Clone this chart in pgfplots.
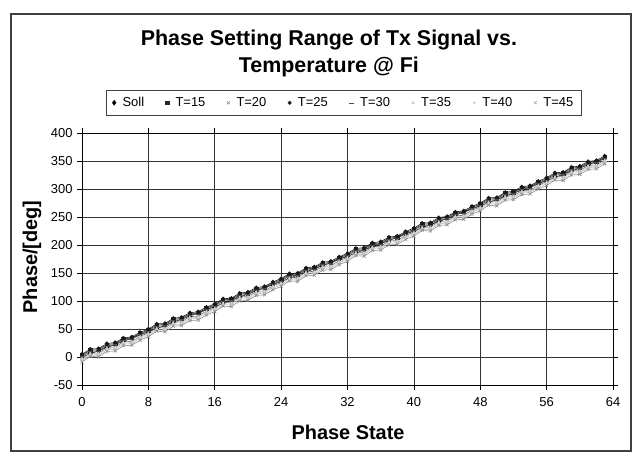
\documentclass[border=0pt]{standalone}
\usepackage{pgfplots}
\pgfplotsset{compat=1.18}
\usepackage{pgfplotstable}
\usepackage{fontspec}
\setmainfont{Liberation Sans}

\pgfplotstableread{
x soll t15 t20 t25 t30 t35 t40 t45
0 0.0 3 -2 5 1 -4 -6 -9
1 5.6 12 7 14 10 5 3 1
2 11.3 13 7 15 11 5 3 0
3 16.9 22 17 24 20 15 13 10
4 22.5 24 18 26 22 16 14 11
5 28.1 32 27 34 30 25 23 20
6 33.8 34 28 36 32 26 24 21
7 39.4 42 37 44 40 35 33 30
8 45.0 48 43 50 46 41 39 36
9 50.6 57 52 59 55 50 48 46
10 56.3 58 52 60 56 50 48 45
11 61.9 67 62 69 65 60 58 55
12 67.5 69 63 71 67 61 59 56
13 73.1 77 72 79 75 70 68 65
14 78.8 79 73 81 77 71 69 66
15 84.4 87 82 89 85 80 78 75
16 90.0 93 88 95 91 86 84 81
17 95.6 102 97 104 100 95 93 91
18 101.3 103 97 105 101 95 93 90
19 106.9 112 107 114 110 105 103 100
20 112.5 114 108 116 112 106 104 101
21 118.1 122 117 124 120 115 113 110
22 123.8 124 118 126 122 116 114 111
23 129.4 132 127 134 130 125 123 120
24 135.0 138 133 140 136 131 129 126
25 140.6 147 142 149 145 140 138 136
26 146.3 148 142 150 146 140 138 135
27 151.9 157 152 159 155 150 148 145
28 157.5 159 153 161 157 151 149 146
29 163.1 167 162 169 165 160 158 155
30 168.8 169 163 171 167 161 159 156
31 174.4 177 172 179 175 170 168 165
32 180.0 183 178 185 181 176 174 171
33 185.6 192 187 194 190 185 183 181
34 191.3 193 187 195 191 185 183 180
35 196.9 202 197 204 200 195 193 190
36 202.5 204 198 206 202 196 194 191
37 208.1 212 207 214 210 205 203 200
38 213.8 214 208 216 212 206 204 201
39 219.4 222 217 224 220 215 213 210
40 225.0 228 223 230 226 221 219 216
41 230.6 237 232 239 235 230 228 226
42 236.3 238 232 240 236 230 228 225
43 241.9 247 242 249 245 240 238 235
44 247.5 249 243 251 247 241 239 236
45 253.1 257 252 259 255 250 248 245
46 258.8 259 253 261 257 251 249 246
47 264.4 267 262 269 265 260 258 255
48 270.0 273 268 275 271 266 264 261
49 275.6 282 277 284 280 275 273 271
50 281.3 283 277 285 281 275 273 270
51 286.9 292 287 294 290 285 283 280
52 292.5 294 288 296 292 286 284 281
53 298.1 302 297 304 300 295 293 290
54 303.8 304 298 306 302 296 294 291
55 309.4 312 307 314 310 305 303 300
56 315.0 318 313 320 316 311 309 306
57 320.6 327 322 329 325 320 318 316
58 326.3 328 322 330 326 320 318 315
59 331.9 337 332 339 335 330 328 325
60 337.5 339 333 341 337 331 329 326
61 343.1 347 342 349 345 340 338 335
62 348.8 349 343 351 347 341 339 336
63 354.4 357 352 359 355 350 348 345
}\datatable

\begin{document}
\begin{tikzpicture}
\path[use as bounding box] (-82bp,-74bp) rectangle (553bp,385bp);
\draw[line width=1.2pt, black!75] (-71bp,-66bp) rectangle (549bp,371bp);
\begin{axis}[
  at={(0,0)}, anchor=south west,
  scale only axis, width=531bp, height=252bp,
  xmin=0, xmax=64, ymin=-50, ymax=400,
  xtick={0,8,...,64}, ytick={-50,0,...,400},
  grid=major,
  major grid style={black!80, line width=0.6pt},
  axis line style={black, line width=0.9pt},
  tick align=outside, major tick length=5bp,
  tick style={black, line width=0.6pt},
  /pgf/number format/assume math mode=true,
  tick label style={font=\fontsize{13}{15}\selectfont},
  xticklabel style={yshift=-4bp},
  yticklabel style={xshift=-1bp},
  title={Phase Setting Range of Tx Signal vs.\\Temperature @ Fi},
  title style={font=\fontsize{21.5}{28}\selectfont\bfseries, align=center,
    at={(axis description cs:0.465,1.292)}, anchor=center},
  xlabel={Phase State},
  ylabel={Phase/[deg]},
  label style={font=\fontsize{20}{22}\selectfont\bfseries},
  xlabel style={at={(axis description cs:0.501,0)}, anchor=base, yshift=-54bp},
  ylabel style={at={(axis description cs:-0.0942,0.508)}, anchor=center},
  legend columns=8,
  legend style={at={(axis description cs:0.045,1.171)}, anchor=north west,
    font=\fontsize{13}{15}\selectfont, draw=black!75, line width=0.9pt,
    column sep=4.5bp, inner ysep=5bp, inner xsep=6bp},
  legend image code/.code={\draw[#1, line width=0.4pt] plot coordinates {(0.1cm,0cm)};},
  every axis plot/.append style={line width=0.6pt, mark size=1.8pt},
]
\addplot[black, mark=diamond*, mark size=2.5pt] table[x=x, y=soll] {\datatable};
\addplot[black!85, mark=square*, mark size=1.7pt] table[x=x, y=t15] {\datatable};
\addplot[black!55, mark=x, mark size=2.2pt] table[x=x, y=t20] {\datatable};
\addplot[black!90, mark=*] table[x=x, y=t25] {\datatable};
\addplot[black!70, mark=-, mark size=2.2pt] table[x=x, y=t30] {\datatable};
\addplot[black!18, mark=triangle*] table[x=x, y=t35] {\datatable};
\addplot[black!22, mark=star] table[x=x, y=t40] {\datatable};
\addplot[black!45, mark=x, mark size=2.2pt] table[x=x, y=t45] {\datatable};
\legend{Soll\hspace*{15bp}, T=15\hspace*{15bp}, T=20\hspace*{15bp}, T=25\hspace*{15bp}, T=30\hspace*{15bp}, T=35\hspace*{15bp}, T=40\hspace*{15bp}, T=45}
\end{axis}
\end{tikzpicture}
\end{document}
